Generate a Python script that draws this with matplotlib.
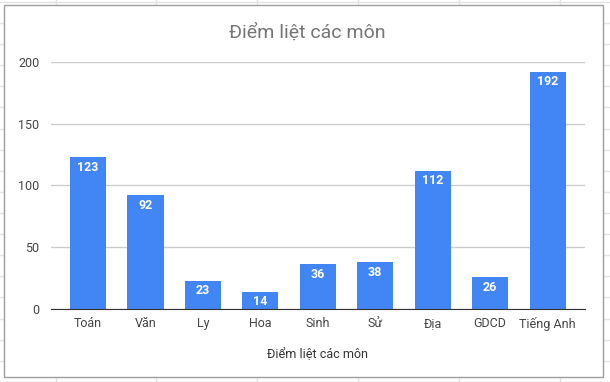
import matplotlib.pyplot as plt
from matplotlib.lines import Line2D
from matplotlib.patches import Rectangle

plt.rcParams['font.family'] = ['Roboto', 'DejaVu Sans']

subjects = ['Toán', 'Văn', 'Ly', 'Hoa', 'Sinh', 'Sử', 'Địa', 'GDCD', 'Tiếng Anh']
scores = [123, 92, 23, 14, 36, 38, 112, 26, 192]
yticks = [0, 50, 100, 150, 200]

W, H = 610, 382
fig = plt.figure(figsize=(W / 100, H / 100), dpi=100)

# spreadsheet cell lines behind the chart
for i in range(19):
    y = 1 - (2 + 21.1 * i) / H
    fig.add_artist(Line2D([0, 1], [y, y], color='#e2e2e2', lw=1, zorder=0))
for x in [56, 156, 257, 358, 459, 560]:
    fig.add_artist(Line2D([x / W, x / W], [0, 1], color='#e2e2e2', lw=1, zorder=0))

# chart box
fig.add_artist(Rectangle((4 / W, 1 - 377 / H), (603 - 4) / W, (377 - 5) / H,
                         facecolor='white', edgecolor='#9e9e9e', lw=1, zorder=1))

ax = fig.add_axes([50.6 / W, 1 - 309 / H, (585 - 50.6) / W, (309 - 61.7) / H])
ax.set_zorder(2)
ax.patch.set_visible(False)

bars = ax.bar(range(len(subjects)), scores, width=0.63, color='#4285f4', zorder=3)
for b, v in zip(bars, scores):
    ax.text(b.get_x() + b.get_width() / 2, v - 3, str(v), ha='center', va='top',
            color='white', fontsize=9, fontweight='bold', zorder=4)

ax.set_xlim(-0.65, len(subjects) - 0.35)
ax.set_ylim(0, 200)
ax.set_yticks(yticks)
ax.set_xticks(range(len(subjects)))
ax.set_xticklabels(subjects)
ax.tick_params(axis='both', length=0, labelsize=9, labelcolor='#444444')
ax.tick_params(axis='x', pad=6)
ax.tick_params(axis='y', pad=8)
ax.grid(axis='y', color='#cccccc', lw=1, zorder=0)
for s in ['top', 'right', 'left']:
    ax.spines[s].set_visible(False)
ax.spines['bottom'].set_color('#333333')
ax.spines['bottom'].set_zorder(5)

ax.set_xlabel('Điểm liệt các môn', fontsize=9, color='#333333', labelpad=12)
fig.text(307 / W, 1 - 33 / H, 'Điểm liệt các môn', ha='center', va='center',
         fontsize=14, color='#757575')

fig.savefig('out.png', dpi=100)
